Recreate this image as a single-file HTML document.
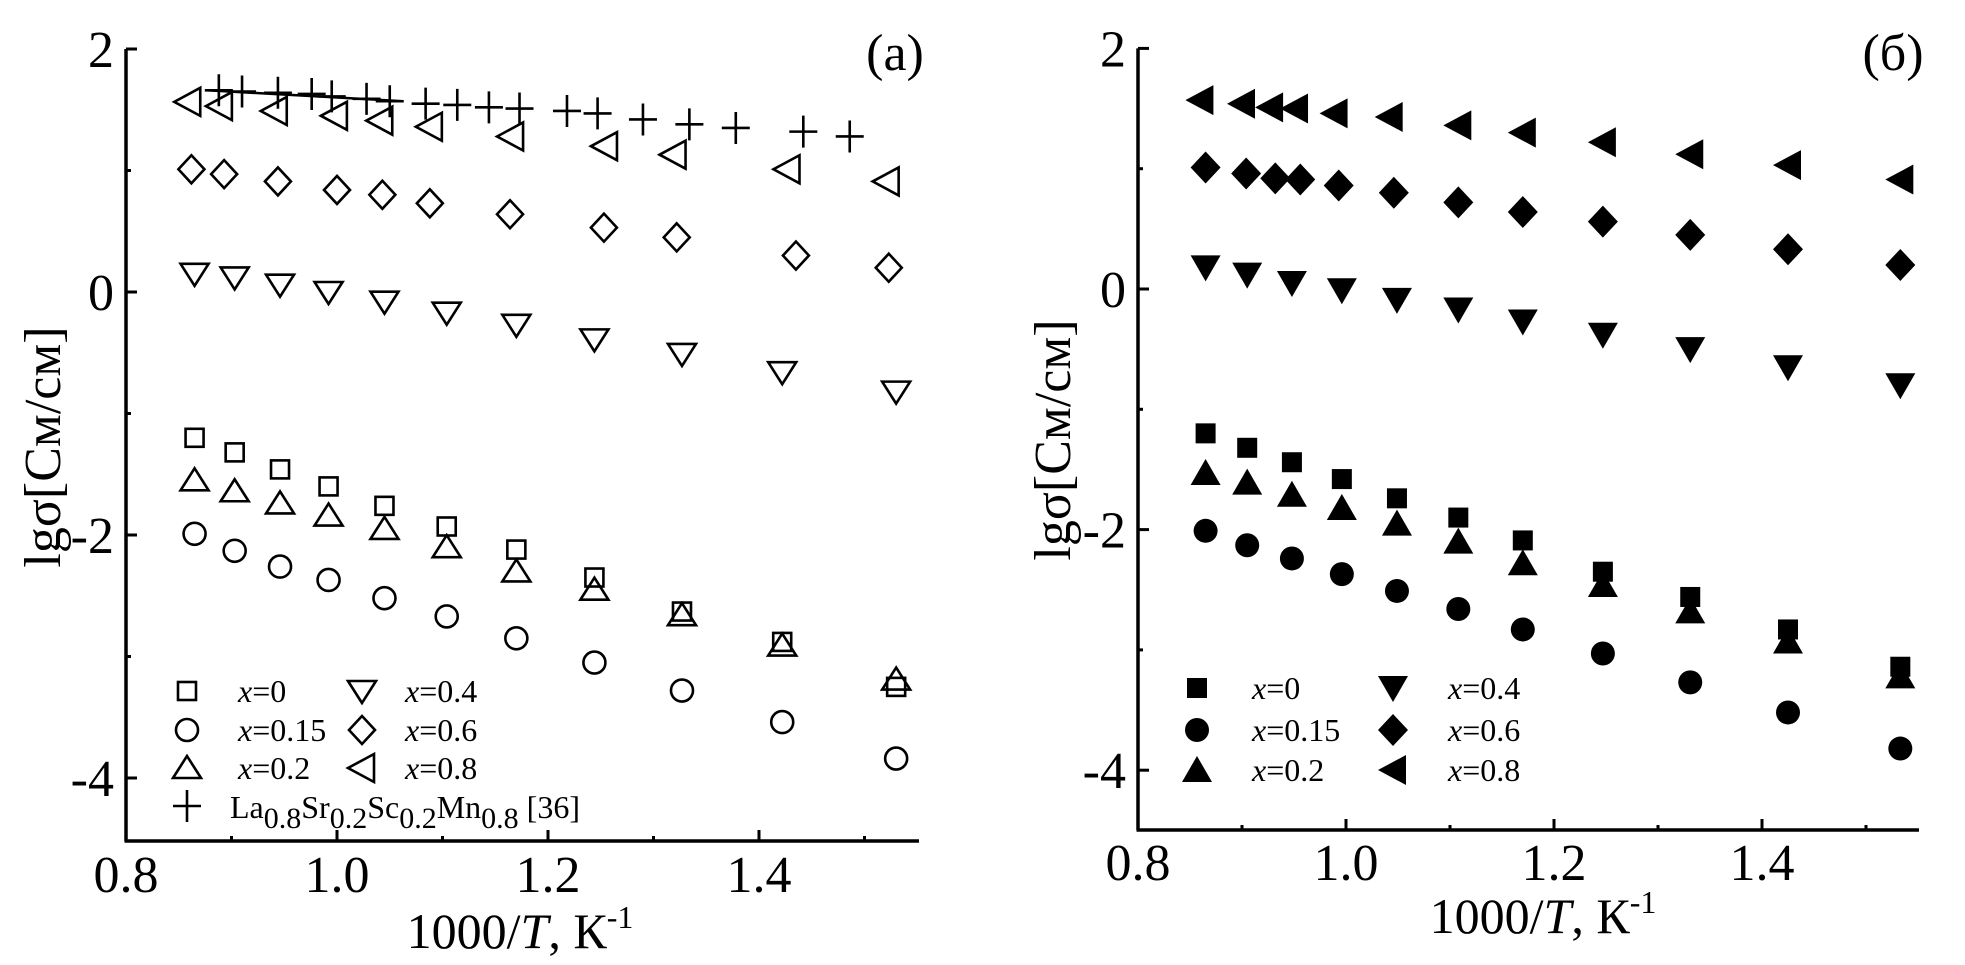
<!DOCTYPE html>
<html><head><meta charset="utf-8"><style>
html,body{margin:0;padding:0;background:#fff;}
svg{display:block;font-family:"Liberation Serif",serif;}
</style></head><body>
<svg id="fig" width="1965" height="965" viewBox="0 0 1965 965" xmlns="http://www.w3.org/2000/svg">
<g id="pa"></g>
<g id="pb"></g>
</svg>
<script>
// ---- data panel (a)
const xA = [0.865,0.903,0.946,0.992,1.045,1.104,1.170,1.244,1.327,1.422,1.530];
const sqA = [-1.20,-1.32,-1.46,-1.60,-1.76,-1.93,-2.12,-2.35,-2.63,-2.88,-3.25];
const triA = [-1.55,-1.64,-1.74,-1.84,-1.95,-2.10,-2.30,-2.45,-2.66,-2.91,-3.19];
const circA = [-1.99,-2.13,-2.26,-2.37,-2.52,-2.67,-2.85,-3.05,-3.28,-3.54,-3.84];
const dtriA = [0.15,0.12,0.06,0.0,-0.08,-0.17,-0.27,-0.39,-0.51,-0.66,-0.82];
const xDiaA = [0.862,0.893,0.944,1.0,1.043,1.088,1.164,1.253,1.322,1.435,1.523];
const diaA = [1.01,0.97,0.91,0.84,0.80,0.73,0.64,0.53,0.45,0.30,0.20];
const xLtA = [0.859,0.889,0.941,0.998,1.041,1.088,1.165,1.254,1.319,1.427,1.521];
const ltA = [1.565,1.53,1.49,1.45,1.41,1.36,1.28,1.20,1.13,1.01,0.91];
const xPlus = [0.888,0.910,0.944,0.976,0.995,1.028,1.050,1.084,1.114,1.144,1.173,1.218,1.247,1.290,1.334,1.378,1.442,1.486];
const plusV = [1.66,1.65,1.64,1.63,1.61,1.59,1.57,1.55,1.54,1.52,1.51,1.49,1.47,1.42,1.38,1.35,1.32,1.28];
const fitX = [0.877,1.063];
const fitY = [1.66,1.57];
// ---- data panel (б)
const xB = [0.865,0.905,0.948,0.996,1.049,1.108,1.170,1.247,1.331,1.425,1.533];
const sqB = [-1.20,-1.32,-1.44,-1.58,-1.74,-1.90,-2.09,-2.35,-2.56,-2.83,-3.14];
const triB = [-1.53,-1.61,-1.71,-1.82,-1.95,-2.10,-2.28,-2.46,-2.68,-2.93,-3.22];
const circB = [-2.01,-2.13,-2.24,-2.37,-2.51,-2.66,-2.83,-3.03,-3.27,-3.52,-3.82];
const dtriB = [0.18,0.12,0.05,-0.01,-0.09,-0.17,-0.27,-0.38,-0.50,-0.65,-0.80];
const xDiaB = [0.865,0.904,0.932,0.956,0.993,1.046,1.108,1.170,1.247,1.331,1.425,1.533];
const diaB = [1.01,0.96,0.92,0.91,0.86,0.80,0.72,0.64,0.56,0.45,0.33,0.20];
const xLtB = [0.86,0.90,0.927,0.951,0.989,1.042,1.108,1.170,1.247,1.331,1.425,1.533];
const ltB = [1.57,1.54,1.51,1.50,1.46,1.43,1.36,1.30,1.22,1.12,1.03,0.91];
const xTicks = [0.8,1.0,1.2,1.4];
const xTickLabels = ["0.8","1.0","1.2","1.4"];
const yTicks = [2,0,-2,-4];
const yTickLabels = ["2","0","-2","-4"];

const NS="http://www.w3.org/2000/svg";
function mk(parent,tag,attrs){const e=document.createElementNS(NS,tag);for(const k in attrs)e.setAttribute(k,attrs[k]);parent.appendChild(e);return e;}

function marker(g,type,cx,cy,filled,name){
  const sw = filled?0:2.6, fill = filled?'#000':'none';
  let e;
  if(type==='sq'){const s=filled?20:18;e=mk(g,'rect',{x:cx-s/2,y:cy-s/2,width:s,height:s,fill:fill,stroke:'#000','stroke-width':sw});}
  else if(type==='circ'){e=mk(g,'circle',{cx:cx,cy:cy,r:filled?12:11,fill:fill,stroke:'#000','stroke-width':sw});}
  else if(type==='tri'){const w=filled?15:14,h=filled?12:10;e=mk(g,'polygon',{points:`${cx},${cy-h-2} ${cx-w},${cy+h} ${cx+w},${cy+h}`,fill:fill,stroke:'#000','stroke-width':sw});}
  else if(type==='dtri'){const w=filled?15:14,h=filled?12:10;e=mk(g,'polygon',{points:`${cx},${cy+h+2} ${cx-w},${cy-h} ${cx+w},${cy-h}`,fill:fill,stroke:'#000','stroke-width':sw});}
  else if(type==='dia'){const w=filled?15:13,h=filled?16:14;e=mk(g,'polygon',{points:`${cx},${cy-h} ${cx+w},${cy} ${cx},${cy+h} ${cx-w},${cy}`,fill:fill,stroke:'#000','stroke-width':sw});}
  else if(type==='lt'){const w=filled?13:12,h=filled?15:14;e=mk(g,'polygon',{points:`${cx-w-2},${cy} ${cx+w},${cy-h} ${cx+w},${cy+h}`,fill:fill,stroke:'#000','stroke-width':sw});}
  else if(type==='plus'){e=mk(g,'path',{d:`M${cx-14},${cy}H${cx+14}M${cx},${cy-16}V${cy+16}`,stroke:'#000','stroke-width':2.6,fill:'none'});}
  
  
  return e;
}

function panel(g,cfg){
  const X=v=>cfg.x0+(v-0.8)*cfg.kx;
  const Y=v=>cfg.y0-v*cfg.ky;
  // axes
  const ya=mk(g,'line',{x1:cfg.x0,y1:Y(2),x2:cfg.x0,y2:cfg.yb,stroke:'#000','stroke-width':3.5});
  
  
  const xa=mk(g,'line',{x1:cfg.x0-1.5,y1:cfg.yb,x2:cfg.xe,y2:cfg.yb,stroke:'#000','stroke-width':3.5});
  
  
  // y ticks
  for(let v=2;v>=-4;v--){const major=v%2===0;const t=mk(g,'line',{x1:cfg.x0,y1:Y(v),x2:cfg.x0+(major?11:5),y2:Y(v),stroke:'#000','stroke-width':3});
    
    }
  yTicks.forEach((v,i)=>{const t=mk(g,'text',{x:cfg.x0-12,y:Y(v)+18,'font-size':52,'text-anchor':'end'});t.textContent=yTickLabels[i];
    
    });
  // x ticks
  for(let k=9;k<=15;k++){const v=k/10;const major=k%2===0;const t=mk(g,'line',{x1:X(v),y1:cfg.yb,x2:X(v),y2:cfg.yb-(major?11:5),stroke:'#000','stroke-width':3});
    
    }
  xTicks.forEach((v,i)=>{const t=mk(g,'text',{x:X(v),y:cfg.xlb,'font-size':52,'text-anchor':'middle'});t.textContent=xTickLabels[i];
    
    });
  // titles
  const xt=mk(g,'text',{x:cfg.xtx,y:cfg.xty,'font-size':50,'text-anchor':'middle'});
  xt.innerHTML='1000/<tspan font-style="italic">T</tspan>, К<tspan font-size="32" dy="-20">-1</tspan>';
  
  
  const yt=mk(g,'text',{x:0,y:0,'font-size':52,'text-anchor':'middle',transform:`translate(${cfg.ytx},${cfg.yty}) rotate(-90)`});
  yt.textContent='lgσ[См/см]';
  
  
  const pl=mk(g,'text',{x:cfg.plx,y:70,'font-size':52,'text-anchor':'middle'});
  pl.textContent=cfg.label;
  
  
  // series
  const f=cfg.filled;
  const series=[['lt',cfg.xLt,cfg.lt],['dia',cfg.xDia,cfg.dia],['dtri',cfg.xs,cfg.dtri],['sq',cfg.xs,cfg.sq],['tri',cfg.xs,cfg.tri],['circ',cfg.xs,cfg.circ]];
  series.forEach(s=>{const sg=mk(g,'g',{});
    
    
    s[1].forEach((xv,i)=>marker(sg,s[0],X(xv),Y(s[2][i]),f,'point-'+s[0]));});
  if(cfg.plus){const sg=mk(g,'g',{});
    
    
    const fl=mk(sg,'line',{x1:X(fitX[0]),y1:Y(fitY[0]),x2:X(fitX[1]),y2:Y(fitY[1]),stroke:'#000','stroke-width':2.5});
    
    
    xPlus.forEach((xv,i)=>marker(sg,'plus',X(xv),Y(plusV[i]),false,'point-plus'));}
  // legend
  const lg=mk(g,'g',{});
  
  
  const ents=[['sq','0',0,0],['circ','0.15',0,1],['tri','0.2',0,2],['dtri','0.4',1,0],['dia','0.6',1,1],['lt','0.8',1,2]];
  ents.forEach(e=>{const mx=e[2]?cfg.lx2:cfg.lx1, tx=e[2]?cfg.tx2:cfg.tx1, y=cfg.ly[e[3]];
    const eg=mk(lg,'g',{});
    
    
    marker(eg,e[0],mx,y,f,'legend-marker');
    const t=mk(eg,'text',{x:tx,y:y+11,'font-size':32});
    t.innerHTML='<tspan font-style="italic">x</tspan>='+e[1];});
  if(cfg.plus){const eg=mk(lg,'g',{});
    
    
    marker(eg,'plus',cfg.lx1,806,false,'legend-marker');
    const t=mk(eg,'text',{x:cfg.tx1-8,y:818,'font-size':32});
    t.innerHTML='La<tspan font-size="30" dy="10">0.8</tspan><tspan dy="-10">Sr</tspan><tspan font-size="30" dy="10">0.2</tspan><tspan dy="-10">Sc</tspan><tspan font-size="30" dy="10">0.2</tspan><tspan dy="-10">Mn</tspan><tspan font-size="30" dy="10">0.8</tspan><tspan dy="-10"> [36]</tspan>';}
}
panel(document.getElementById('pa'),{x0:126,kx:1055,y0:292,ky:121.5,yb:841,xe:919,xlb:892,xtx:520,xty:948,ytx:60,yty:447,plx:895,label:'(a)',
  filled:false,xs:xA,sq:sqA,tri:triA,circ:circA,dtri:dtriA,xDia:xDiaA,dia:diaA,xLt:xLtA,lt:ltA,plus:true,
  lx1:187,tx1:238,lx2:362,tx2:405,ly:[691,730,768]});
panel(document.getElementById('pb'),{x0:1138,kx:1040,y0:289,ky:120.3,yb:830,xe:1919,xlb:880,xtx:1543,xty:933,ytx:1070,yty:440,plx:1893,label:'(б)',
  filled:true,xs:xB,sq:sqB,tri:triB,circ:circB,dtri:dtriB,xDia:xDiaB,dia:diaB,xLt:xLtB,lt:ltB,plus:false,
  lx1:1197,tx1:1252,lx2:1393,tx2:1448,ly:[688,730,770]});
</script>
</body></html>
